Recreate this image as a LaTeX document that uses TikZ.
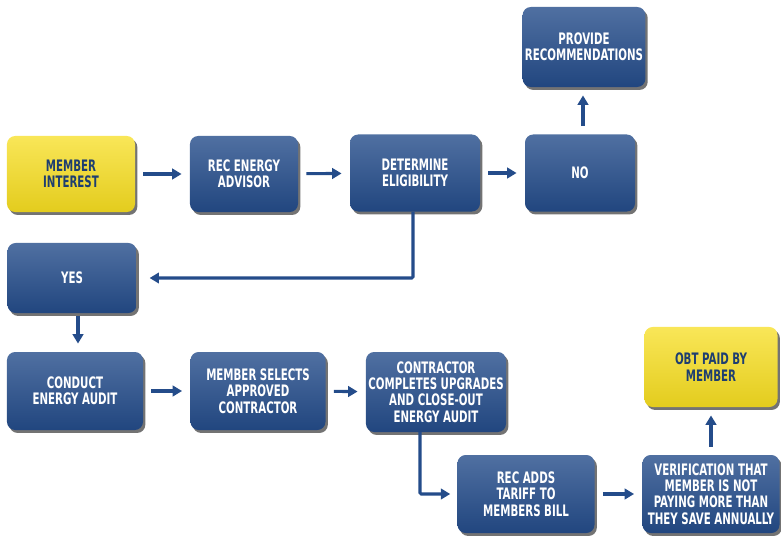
\documentclass[tikz,border=0pt]{standalone}
\usepackage{fontspec}
\setmainfont{DejaVu Sans Condensed}[FakeStretch=0.72]
\usetikzlibrary{shadows,arrows.meta}

\definecolor{boxblue}{RGB}{36,76,138}
\definecolor{boxyellow}{RGB}{247,222,32}
\definecolor{darkblue}{RGB}{30,62,112}

\begin{document}
\begin{tikzpicture}[x=0.03cm, y=-0.03cm]
    \tikzstyle{every node}=[font=\bfseries\fontsize{13.5}{14}\selectfont, align=center, inner sep=2pt]
    \tikzstyle{box}=[rounded corners=7pt, top color=boxblue!80!white, bottom color=boxblue!92!black, text=white,
        drop shadow={shadow xshift=2pt, shadow yshift=-2.5pt, opacity=.55, fill=black}]
    \tikzstyle{ybox}=[box, top color=boxyellow!75!white, bottom color=boxyellow!92!black, text=darkblue]
    \tikzstyle{arr}=[draw=boxblue, line width=2.6pt, -{Triangle[length=8pt, width=9pt]}, shorten <=7pt, shorten >=7pt]

    \useasboundingbox (0,0) rectangle (781,536);

% top row
    \node [ybox, minimum width=3.84cm, minimum height=2.28cm] (member) at (71,174) {MEMBER\\INTEREST};
    \node [box, minimum width=3.24cm, minimum height=2.28cm] (advisor) at (244,174) {REC ENERGY\\ADVISOR};
    \node [box, minimum width=3.9cm, minimum height=2.31cm] (elig) at (415,173) {DETERMINE\\ELIGIBILITY};
    \node [box, minimum width=3.3cm, minimum height=2.31cm] (no) at (580,173) {NO};
    \node [box, minimum width=3.45cm, minimum height=2.4cm] (recs) at (584,47) {PROVIDE\\RECOMMENDATIONS};

% middle and bottom rows
    \node [box, minimum width=3.87cm, minimum height=2.1cm] (yes) at (72,278) {YES};
    \node [box, minimum width=4.08cm, minimum height=2.34cm] (audit) at (75,391) {CONDUCT\\ENERGY AUDIT};
    \node [box, minimum width=4.05cm, minimum height=2.34cm] (selects) at (258,391) {MEMBER SELECTS\\APPROVED\\CONTRACTOR};
    \node [box, minimum width=3.78cm, minimum height=2.4cm] (contractor) at (436,392) {CONTRACTOR\\COMPLETES UPGRADES\\AND CLOSE-OUT\\ENERGY AUDIT};
    \node [box, minimum width=4.11cm, minimum height=2.34cm] (tariff) at (526,494) {REC ADDS\\TARIFF TO\\MEMBERS BILL};
    \node [box, minimum width=4.11cm, minimum height=2.34cm] (verif) at (711,494) {VERIFICATION THAT\\MEMBER IS NOT\\PAYING MORE THAN\\THEY SAVE ANNUALLY};
    \node [ybox, minimum width=3.99cm, minimum height=2.4cm] (obt) at (711,367) {OBT PAID BY\\MEMBER};

% connectors
    \draw [arr] (member) -- (advisor);
    \draw [arr] (advisor) -- (elig);
    \draw [arr] (elig) -- (no);
    \draw [arr] ([xshift=0.09cm]no.north) -- ([xshift=0.09cm]no.north |- recs.south);
    \draw [arr, shorten <=0pt, shorten >=11pt, rounded corners=1pt] ([xshift=-0.06cm]elig.south) |- (yes.east);
    \draw [arr, shorten <=2pt] ([xshift=0.18cm]yes.south) -- ([xshift=0.18cm]yes.south |- audit.north);
    \draw [arr] (audit) -- (selects);
    \draw [arr] (selects) -- (contractor);
    \draw [arr, shorten <=0pt, shorten >=6pt, rounded corners=1pt] ([xshift=-0.48cm]contractor.south) |- (tariff.west);
    \draw [arr] (tariff) -- (verif);
    \draw [arr] (verif) -- (obt);

\end{tikzpicture}
\end{document}
